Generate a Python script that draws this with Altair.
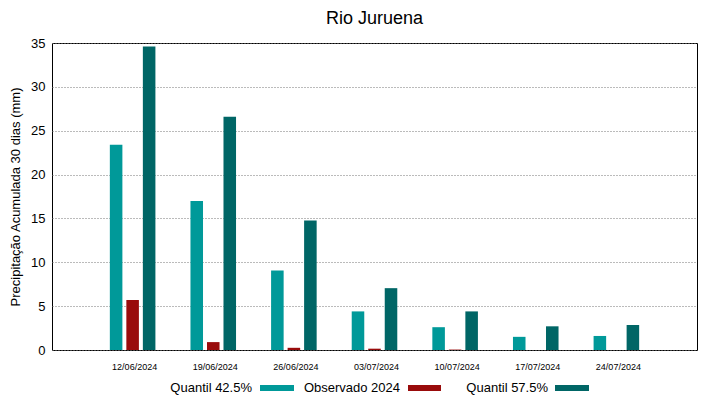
import altair as alt
import pandas as pd

dates = ["12/06/2024", "19/06/2024", "26/06/2024", "03/07/2024",
         "10/07/2024", "17/07/2024", "24/07/2024"]
series = ["Quantil 42.5%", "Observado 2024", "Quantil 57.5%"]
colors = ["#009999", "#990b0b", "#006666"]
q425 = [23.4, 17.0, 9.05, 4.4, 2.6, 1.5, 1.6]
obs = [5.7, 0.9, 0.25, 0.15, 0.05, 0.0, 0.0]
q575 = [34.6, 26.6, 14.75, 7.05, 4.4, 2.7, 2.85]
yticks = [0, 5, 10, 15, 20, 25, 30, 35]
title_text = "Rio Juruena"

rows = []
for i, d in enumerate(dates):
    for s, vals in zip(series, [q425, obs, q575]):
        rows.append({"date": d, "serie": s, "valor": vals[i]})
df = pd.DataFrame(rows)

W, H = 645, 307
FONT = "Liberation Sans"

bars = alt.Chart(df).mark_bar().encode(
    x=alt.X("date:N", sort=dates,
            scale=alt.Scale(paddingInner=0.23, paddingOuter=0.615),
            axis=alt.Axis(title=None, labelAngle=0, labelFontSize=9,
                          ticks=False, domain=False, labelPadding=12,
                          labelColor="black", labelOffset=2)),
    xOffset=alt.XOffset("serie:N", sort=series,
                        scale=alt.Scale(paddingInner=0.24, paddingOuter=0.5)),
    y=alt.Y("valor:Q", scale=alt.Scale(domain=[0, 35], nice=False),
            axis=alt.Axis(values=yticks, title="Precipitação Acumulada 30 dias (mm)",
                          grid=True, gridDash=[1, 2], gridColor="#777777",
                          ticks=False, domain=False, labelFontSize=13,
                          labelPadding=7, labelColor="black",
                          titleFontSize=13, titleFontWeight="normal",
                          titleColor="black", titlePadding=8)),
    color=alt.Color("serie:N", scale=alt.Scale(domain=series, range=colors), legend=None),
)

leg_df = pd.DataFrame({"k": [0]})
extra_layers = []
leg_pos = [(200, 208, 242), (348, 356, 389), (496, 503, 537)]
for s, c, (xt, x0, x1) in zip(series, colors, leg_pos):
    extra_layers.append(
        alt.Chart(leg_df).mark_text(text=s, align="right", baseline="middle",
                                    fontSize=13, font=FONT, color="black")
        .encode(x=alt.value(xt), y=alt.value(H + 38))
    )
    extra_layers.append(
        alt.Chart(leg_df).mark_rect(color=c)
        .encode(x=alt.value(x0), x2=alt.value(x1),
                y=alt.value(H + 35), y2=alt.value(H + 41))
    )

extra_layers.append(
    alt.Chart(leg_df).mark_text(text=title_text, align="center", baseline="alphabetic",
                                fontSize=18, font=FONT, color="black")
    .encode(x=alt.value(W / 2), y=alt.value(-19))
)

chart = alt.layer(bars, *extra_layers).properties(
    width=W, height=H,
    padding={"left": 44, "top": 35, "right": 6, "bottom": 48},
    autosize=alt.AutoSizeParams(type="none"),
).configure(font=FONT).configure_view(stroke="black", strokeWidth=1)

chart.save("out.html", embed_options={"renderer": "svg", "actions": False})
